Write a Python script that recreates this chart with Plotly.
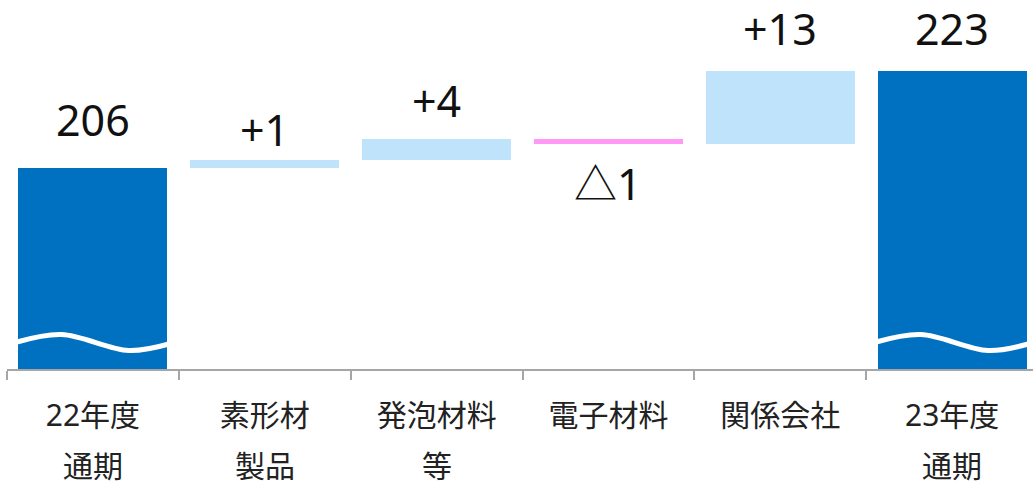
import plotly.graph_objects as go
import numpy as np

# ---- data ----
cat_line1 = ["22年度", "素形材", "発泡材料", "電子材料", "関係会社", "23年度"]
cat_line2 = ["通期", "製品", "等", "", "", "通期"]
start_total = 206.0
deltas = [1.4, 3.8, -0.9, 12.7]
end_total = 223.0
value_labels = ["206", "+1", "+4", "△1", "+13", "223"]

# ---- styles ----
C_TOTAL = "#0070C0"
C_UP = "#C0E3FC"
C_DOWN = "#FF99F5"
AXIS_GRAY = "#A6A6A6"
FONT = "Noto Sans CJK JP"
LBL_FONT = "Noto Sans, Noto Sans CJK JP"
W, H = 1033, 486
ML, MB = 7, 117
PH = H - MB  # plot height in px
BAR_W = 0.867
XR = [-0.5, -0.5 + (W - ML) / 171.85]
px_per_unit = 5.724
y_lo = start_total - (PH - 168.3) / px_per_unit
y_hi = y_lo + PH / px_per_unit
label_offsets = [48, 30, 37, -41, 41, 41]  # px from bar end to label centre

# ---- build bars ----
heights = [start_total] + deltas + [end_total]
bases = [0.0]
run = start_total
for d in deltas:
    bases.append(run)
    run += d
bases.append(0.0)
colors = [C_TOTAL] + [C_UP if d >= 0 else C_DOWN for d in deltas] + [C_TOTAL]

fig = go.Figure()
fig.add_trace(go.Bar(
    x=cat_line1, y=heights, base=bases, width=BAR_W,
    marker=dict(color=colors, line=dict(width=0)),
    hoverinfo="skip", showlegend=False,
))

# axis-break waves on the total bars
def px_to_val(ypx):
    return y_lo + (PH - ypx) * (y_hi - y_lo) / PH

wave_t = np.array([-0.01, 0.29, 0.74, 1.01])
wave_px = np.array([342.0, 334.5, 350.5, 344.0])
for i in (0, len(heights) - 1):
    xs = i - BAR_W / 2 + wave_t * BAR_W
    fig.add_trace(go.Scatter(
        x=xs, y=[px_to_val(v) for v in wave_px], xaxis="x2", yaxis="y",
        mode="lines", line=dict(color="white", width=5, shape="spline", smoothing=1.0),
        hoverinfo="skip", showlegend=False,
    ))

# value labels
for i, (lab, b, h) in enumerate(zip(value_labels, bases, heights)):
    fig.add_annotation(
        x=cat_line1[i], y=b + h, xref="x", yref="y", text=lab, showarrow=False,
        yanchor="middle", yshift=label_offsets[i] + 1,
        font=dict(family=LBL_FONT, size=43, color="#111111"),
    )

# second line of category labels
for c1, c2 in zip(cat_line1, cat_line2):
    if c2:
        fig.add_annotation(
            x=c1, y=0, xref="x", yref="paper", text=c2, showarrow=False,
            yanchor="middle", yshift=-(465 - PH),
            font=dict(family=LBL_FONT, size=30, color="#222222"),
        )

fig.update_layout(
    width=W, height=H, margin=dict(l=ML, r=0, t=0, b=MB),
    paper_bgcolor="white", plot_bgcolor="white", bargap=0,
    xaxis=dict(
        type="category", range=XR, tickson="boundaries", ticks="outside",
        ticklen=9, tickwidth=1.5, tickcolor=AXIS_GRAY,
        showline=True, linecolor=AXIS_GRAY, linewidth=1.5, showgrid=False,
        tickfont=dict(family=LBL_FONT, size=30, color="#222222"),
        ticklabelstandoff=19,
        layer="below traces", fixedrange=True,
    ),
    xaxis2=dict(overlaying="x", range=XR, visible=False, anchor="y"),
    yaxis=dict(range=[y_lo, y_hi], visible=False, showgrid=False, zeroline=False),
    font=dict(family=FONT),
)

fig.write_html("out.html")
